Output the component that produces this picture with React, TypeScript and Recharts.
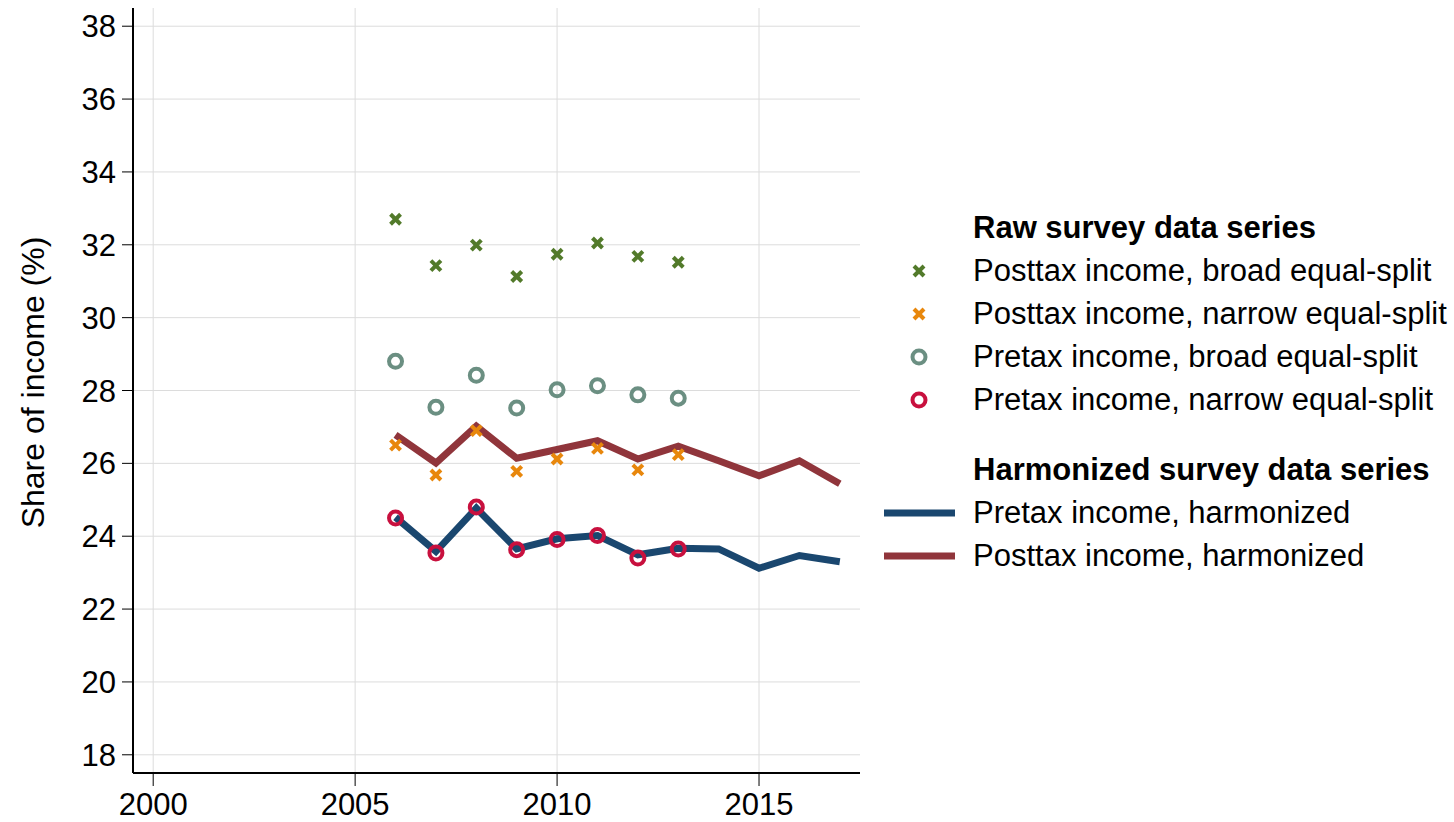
import { ComposedChart, Line, XAxis, YAxis, CartesianGrid, Label } from 'recharts';

const surveyYears = [2006, 2007, 2008, 2009, 2010, 2011, 2012, 2013];
const harmonizedYears = [2006, 2007, 2008, 2009, 2010, 2011, 2012, 2013, 2014, 2015, 2016, 2017];

const posttaxBroad = [32.7, 31.43, 31.99, 31.13, 31.74, 32.05, 31.68, 31.52];
const posttaxNarrow = [26.5, 25.68, 26.9, 25.78, 26.12, 26.41, 25.82, 26.24];
const pretaxBroad = [28.8, 27.54, 28.42, 27.52, 28.02, 28.13, 27.88, 27.79];
const pretaxNarrow = [24.5, 23.54, 24.8, 23.63, 23.91, 24.02, 23.4, 23.65];

const pretaxHarmonized = [24.52, 23.58, 24.77, 23.65, 23.93, 24.02, 23.49, 23.67, 23.65, 23.12, 23.47, 23.3];
const posttaxHarmonized = [26.78, 26.01, 27.02, 26.14, 26.38, 26.62, 26.12, 26.47, 26.07, 25.66, 26.07, 25.44];

const xTicks = [2000, 2005, 2010, 2015];
const yTicks = [18, 20, 22, 24, 26, 28, 30, 32, 34, 36, 38];

const COLORS = {
  green: '#527a2a',
  orange: '#e8870c',
  sage: '#6b8f82',
  crimson: '#c8103e',
  navy: '#1a476f',
  maroon: '#90353b',
};

const FONT = 'Arial, "Liberation Sans", sans-serif';

const toRows = (years: number[], vals: number[]) => years.map((year, i) => ({ year, v: vals[i] }));

const harmonizedRows = harmonizedYears.map((year, i) => ({
  year,
  pretax: pretaxHarmonized[i],
  posttax: posttaxHarmonized[i],
}));

const Cross = ({ cx, cy, color }: any) => {
  if (cx == null || cy == null) return <g />;
  const s = 5;
  return (
    <g>
      <line x1={cx - s} y1={cy - s} x2={cx + s} y2={cy + s} stroke={color} strokeWidth={4} />
      <line x1={cx - s} y1={cy + s} x2={cx + s} y2={cy - s} stroke={color} strokeWidth={4} />
    </g>
  );
};

const Ring = ({ cx, cy, color }: any) => {
  if (cx == null || cy == null) return <g />;
  return <circle cx={cx} cy={cy} r={6.5} fill="none" stroke={color} strokeWidth={4} />;
};

const legendGroups = [
  {
    title: 'Raw survey data series',
    items: [
      { label: 'Posttax income, broad equal-split', kind: 'cross', color: COLORS.green },
      { label: 'Posttax income, narrow equal-split', kind: 'cross', color: COLORS.orange },
      { label: 'Pretax income, broad equal-split', kind: 'ring', color: COLORS.sage },
      { label: 'Pretax income, narrow equal-split', kind: 'ring', color: COLORS.crimson },
    ],
  },
  {
    title: 'Harmonized survey data series',
    items: [
      { label: 'Pretax income, harmonized', kind: 'line', color: COLORS.navy },
      { label: 'Posttax income, harmonized', kind: 'line', color: COLORS.maroon },
    ],
  },
];

const LegendMarker = ({ kind, color }: { kind: string; color: string }) => (
  <svg width={72} height={20} style={{ display: 'block' }}>
    {kind === 'cross' && <Cross cx={35} cy={10} color={color} />}
    {kind === 'ring' && <Ring cx={35} cy={10} color={color} />}
    {kind === 'line' && <line x1={0} y1={10} x2={71} y2={10} stroke={color} strokeWidth={7} />}
  </svg>
);

const ChartLegend = () => (
  <div
    style={{
      position: 'absolute',
      left: 884,
      top: 206,
      fontFamily: FONT,
      fontSize: 31,
      color: '#000',
      lineHeight: '43px',
    }}
  >
    {legendGroups.map((g, gi) => (
      <div key={g.title} style={{ marginTop: gi === 0 ? 0 : 27 }}>
        <div style={{ fontWeight: 'bold', paddingLeft: 89, whiteSpace: 'nowrap' }}>{g.title}</div>
        {g.items.map((it) => (
          <div key={it.label} style={{ display: 'flex', alignItems: 'center', height: 43 }}>
            <div style={{ width: 89 }}>
              <LegendMarker kind={it.kind} color={it.color} />
            </div>
            <span style={{ whiteSpace: 'nowrap' }}>{it.label}</span>
          </div>
        ))}
      </div>
    ))}
  </div>
);

const YLabel = ({ viewBox }: any) => {
  const x = 33;
  const y = viewBox.y + viewBox.height / 2 - 8;
  return (
    <text
      x={x}
      y={y}
      transform={`rotate(-90, ${x}, ${y})`}
      textAnchor="middle"
      dominantBaseline="central"
      fontSize={32}
      fontFamily={FONT}
      fill="#000"
    >
      Share of income (%)
    </text>
  );
};

const App = () => {
  return (
    <div style={{ position: 'absolute', left: 0, top: 0, width: 1454, height: 822, background: '#fff' }}>
      <ComposedChart
        width={1454}
        height={822}
        data={harmonizedRows}
        margin={{ top: 8, right: 594, bottom: 0, left: 0 }}
      >
        <CartesianGrid stroke="#dcdcdc" strokeWidth={1} verticalValues={xTicks} horizontalValues={yTicks} />
        <XAxis
          dataKey="year"
          type="number"
          domain={[1999.5, 2017.5]}
          ticks={xTicks}
          allowDataOverflow
          axisLine={{ stroke: '#000', strokeWidth: 2 }}
          tickLine={{ stroke: '#000', strokeWidth: 1 }}
          tickSize={13}
          tickMargin={7}
          height={49}
          tick={{ fill: '#000', fontSize: 31, fontFamily: FONT }}
        />
        <YAxis
          type="number"
          domain={[17.5, 38.5]}
          ticks={yTicks}
          allowDataOverflow
          width={133}
          axisLine={{ stroke: '#000', strokeWidth: 2 }}
          tickLine={{ stroke: '#000', strokeWidth: 1 }}
          tickSize={11}
          tickMargin={6}
          tick={{ fill: '#000', fontSize: 31, fontFamily: FONT }}
        >
          <Label content={<YLabel />} />
        </YAxis>
        <Line
          dataKey="pretax"
          stroke={COLORS.navy}
          strokeWidth={7}
          dot={false}
          activeDot={false}
          isAnimationActive={false}
          strokeLinejoin="miter"
        />
        <Line
          dataKey="posttax"
          stroke={COLORS.maroon}
          strokeWidth={7}
          dot={false}
          activeDot={false}
          isAnimationActive={false}
          strokeLinejoin="miter"
        />
        <Line
          data={toRows(surveyYears, posttaxBroad)}
          dataKey="v"
          stroke="none"
          activeDot={false}
          isAnimationActive={false}
          dot={(p: any) => <Cross key={`pb-${p.index}`} cx={p.cx} cy={p.cy} color={COLORS.green} />}
        />
        <Line
          data={toRows(surveyYears, posttaxNarrow)}
          dataKey="v"
          stroke="none"
          activeDot={false}
          isAnimationActive={false}
          dot={(p: any) => <Cross key={`pn-${p.index}`} cx={p.cx} cy={p.cy} color={COLORS.orange} />}
        />
        <Line
          data={toRows(surveyYears, pretaxBroad)}
          dataKey="v"
          stroke="none"
          activeDot={false}
          isAnimationActive={false}
          dot={(p: any) => <Ring key={`rb-${p.index}`} cx={p.cx} cy={p.cy} color={COLORS.sage} />}
        />
        <Line
          data={toRows(surveyYears, pretaxNarrow)}
          dataKey="v"
          stroke="none"
          activeDot={false}
          isAnimationActive={false}
          dot={(p: any) => <Ring key={`rn-${p.index}`} cx={p.cx} cy={p.cy} color={COLORS.crimson} />}
        />
      </ComposedChart>
      <ChartLegend />
    </div>
  );
};

export default App;
